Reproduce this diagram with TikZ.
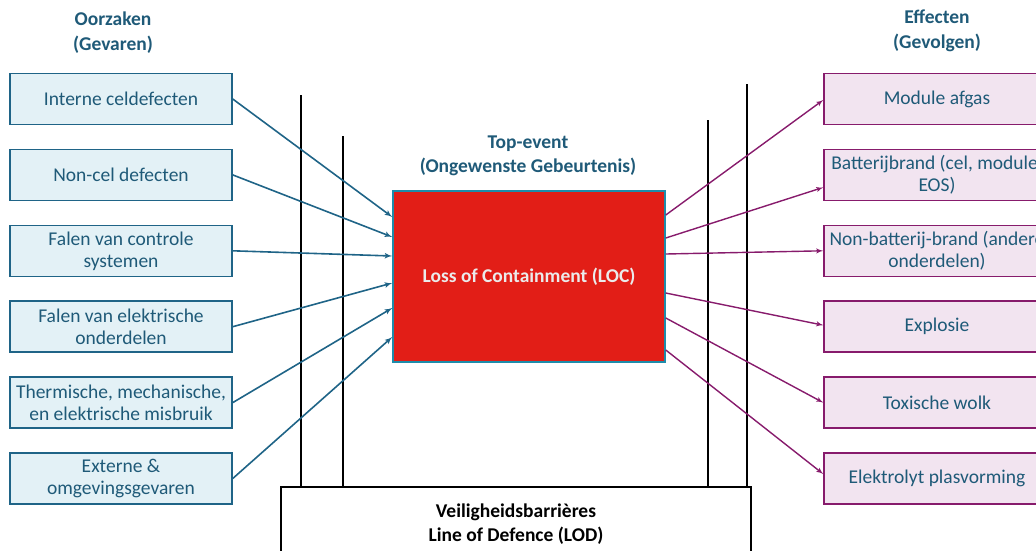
\documentclass[tikz,border=0pt]{standalone}
\usepackage{fontspec}
\setmainfont{Carlito}
\usepackage{tikz}
\usetikzlibrary{arrows,positioning}
\definecolor{causeblue}{RGB}{31,100,135}
\definecolor{causefill}{RGB}{227,241,246}
\definecolor{effectpurple}{RGB}{135,27,108}
\definecolor{effectfill}{RGB}{242,228,240}
\definecolor{textblue}{RGB}{31,90,120}
\definecolor{locred}{RGB}{226,30,23}
\definecolor{locedge}{RGB}{30,140,170}
\tikzstyle{causebox} = [rectangle, draw=causeblue, fill=causefill, line width=1.5pt, minimum width=222pt, minimum height=51pt, inner sep=0pt, text=textblue]
\tikzstyle{effectbox} = [rectangle, draw=effectpurple, fill=effectfill, line width=1.5pt, minimum width=226pt, minimum height=51pt, inner sep=0pt, text=textblue]
\tikzstyle{cline} = [draw=causeblue, line width=1.6pt, -latex']
\tikzstyle{eline} = [draw=effectpurple, line width=1.4pt, -latex']
\tikzstyle{barrier} = [draw=black, line width=2.6pt]
\tikzstyle{head} = [font=\bfseries\fontsize{19.5}{24.5}\selectfont, text=textblue]

\begin{document}
\fontsize{19.5}{22}\selectfont
\begin{tikzpicture}[x=1pt, y=-1pt, node distance=75.9pt, align=center]
\useasboundingbox (0,0) rectangle (1036,550);

\node (nodeHC) [head] at (113,32.5) {Oorzaken\\(Gevaren)};
\node (nodeHE) [head] at (937,31) {Effecten\\(Gevolgen)};
\node (nodeTop) [head] at (528,156) {Top-event\\(Ongewenste Gebeurtenis)};

\node (nodeLOD) [rectangle,draw=black,fill=white,line width=1.5pt,minimum width=470pt,minimum height=74pt,font=\bfseries\fontsize{19.5}{24}\selectfont] at (516,524) {Veiligheidsbarrières\\Line of Defence (LOD)};

\coordinate (bar1) at (301,95);
\coordinate (bar2) at (343,136);
\coordinate (bar3) at (708,120);
\coordinate (bar4) at (747,84);
\path [barrier] (bar1) -- (bar1 |- nodeLOD.north);
\path [barrier] (bar2) -- (bar2 |- nodeLOD.north);
\path [barrier] (bar3) -- (bar3 |- nodeLOD.north);
\path [barrier] (bar4) -- (bar4 |- nodeLOD.north);

\node (nodeLOC) [rectangle,fill=locred,draw=locedge,line width=1.5pt,minimum width=272pt,minimum height=171pt,font=\bfseries,text=white!92!black] at (529,276.5) {Loss of Containment (LOC)};

\node (nodeC1) [causebox] at (121,99) {Interne celdefecten};
\path [cline] (nodeC1.east) -- ([yshift=59.5pt]nodeLOC.west);

\node (nodeC2) [causebox,below of=nodeC1] {Non-cel defecten};
\path [cline] (nodeC2.east) -- ([yshift=39.5pt]nodeLOC.west);

\node (nodeC3) [causebox,below of=nodeC2] {Falen van controle\\systemen};
\path [cline] (nodeC3.east) -- ([yshift=20.5pt]nodeLOC.west);

\node (nodeC4) [causebox,below of=nodeC3] {Falen van elektrische\\onderdelen};
\path [cline] (nodeC4.east) -- ([yshift=-6.5pt]nodeLOC.west);

\node (nodeC5) [causebox,below of=nodeC4] {Thermische, mechanische,\\en elektrische misbruik};
\path [cline] (nodeC5.east) -- ([yshift=-31.5pt]nodeLOC.west);

\node (nodeC6) [causebox,below of=nodeC5] {Externe \&\\omgevingsgevaren};
\path [cline] (nodeC6.east) -- ([yshift=-60.5pt]nodeLOC.west);

\node (nodeE1) [effectbox] at (937,99) {Module afgas};
\path [eline] ([yshift=61.5pt]nodeLOC.east) -- ([yshift=-1pt]nodeE1.west);

\node (nodeE2) [effectbox,below of=nodeE1] {Batterijbrand (cel, module,\\EOS)};
\path [eline] ([yshift=38.5pt]nodeLOC.east) -- ([yshift=-12.5pt]nodeE2.west);

\node (nodeE3) [effectbox,below of=nodeE2] {Non-batterij-brand (andere\\onderdelen)};
\path [eline] ([yshift=22.5pt]nodeLOC.east) -- (nodeE3.west);

\node (nodeE4) [effectbox,below of=nodeE3] {Explosie};
\path [eline] ([yshift=-16.5pt]nodeLOC.east) -- ([yshift=1.5pt]nodeE4.west);

\node (nodeE5) [effectbox,below of=nodeE4] {Toxische wolk};
\path [eline] ([yshift=-41.5pt]nodeLOC.east) -- (nodeE5.west);

\node (nodeE6) [effectbox,below of=nodeE5] {Elektrolyt plasvorming};
\path [eline] ([yshift=-73.5pt]nodeLOC.east) -- ([yshift=4.5pt]nodeE6.west);

\end{tikzpicture}
\end{document}
